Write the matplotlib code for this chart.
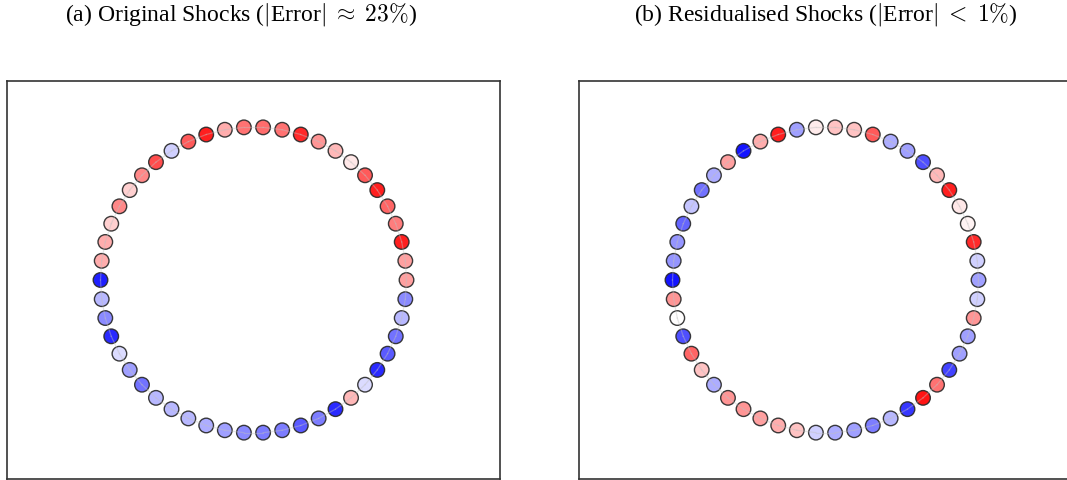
import matplotlib
matplotlib.use("Agg")
import matplotlib.pyplot as plt
import numpy as np

plt.rcParams['font.family'] = ['Liberation Serif', 'DejaVu Serif']
plt.rcParams['mathtext.fontset'] = 'cm'

# standardised shock per node, ring of 50 nodes (node 0 at angle 0, counter-clockwise)
shocks_original = [
    0.40, 0.40, 0.95, 0.55, 0.65, 0.95, 0.70, 0.10, 0.30, 0.45,
    0.90, 0.60, 0.62, 0.60, 0.35, 0.95, 0.70, -0.20, 0.75, 0.50,
    0.20, 0.50, 0.20, 0.35, 0.35, -0.95, -0.30, -0.50, -0.90, -0.15,
    -0.40, -0.60, -0.30, -0.30, -0.30, -0.35, -0.40, -0.50, -0.55, -0.55,
    -0.70, -0.55, -0.90, 0.30, -0.15, -0.90, -0.70, -0.60, -0.30, -0.50,
]
shocks_resid = [
    -0.40, -0.20, 0.90, 0.05, 0.10, 0.95, 0.30, -0.75, -0.40, -0.35,
    0.70, 0.25, 0.25, 0.08, -0.40, 0.95, 0.35, -1.00, 0.40, -0.35,
    -0.60, -0.25, -0.65, -0.45, -0.45, -1.00, 0.45, 0.00, -0.75, 0.65,
    0.25, -0.35, 0.45, 0.45, 0.40, 0.35, 0.25, -0.20, -0.35, -0.40,
    -0.55, -0.30, -0.85, 1.00, 0.60, -0.80, -0.40, -0.40, 0.45, -0.20,
]
titles = [
    r"(a) Original Shocks ($|$Error$| \;\approx\; 23\%$)",
    r"(b) Residualised Shocks ($|$Error$| \;<\; 1\%$)",
]

n = len(shocks_original)
theta = 2 * np.pi * np.arange(n) / n
px, py = np.cos(theta), np.sin(theta)

fig = plt.figure(figsize=(10.67, 4.81), dpi=100)
ax_a = fig.add_axes([7 / 1067, 1 / 481, 493 / 1067, 398 / 481])
ax_b = fig.add_axes([579 / 1067, 1 / 481, 493 / 1067, 398 / 481])

for ax, vals in [(ax_a, shocks_original), (ax_b, shocks_resid)]:
    ax.scatter(px, py, c=vals, cmap='bwr', vmin=-1, vmax=1, s=110,
               edgecolors='#2a2a2a', linewidths=1.0, alpha=0.92, zorder=2)
    # ring edges between neighbouring nodes
    for i in range(n):
        j = (i + 1) % n
        ax.plot([px[i], px[j]], [py[i], py[j]], color='#c0c0c0',
                lw=0.9, alpha=0.4, zorder=3)
    ax.set_xlim(-1.611, 1.611)
    ax.set_ylim(-1.301, 1.301)
    ax.set_xticks([])
    ax.set_yticks([])
    for sp in ax.spines.values():
        sp.set_color('#333333')
        sp.set_linewidth(1.2)

fig.text(241 / 1067, 1 - 15 / 481, titles[0], ha='center', va='center', fontsize=17)
fig.text(826 / 1067, 1 - 15 / 481, titles[1], ha='center', va='center', fontsize=17)

plt.savefig('out.png', dpi=100)
